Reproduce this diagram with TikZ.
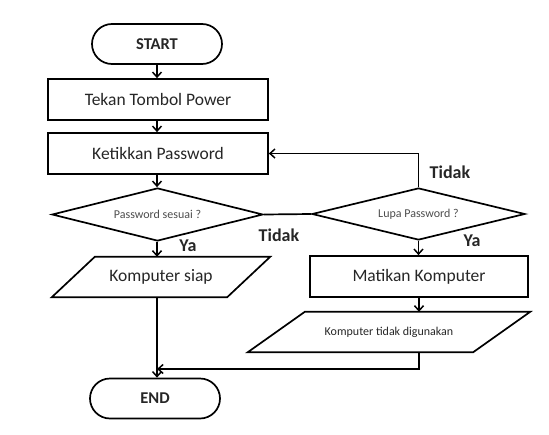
\documentclass[tikz,border=0pt]{standalone}
\usepackage{fontspec}
\setmainfont{Carlito}
\usetikzlibrary{arrows.meta,shapes.geometric,shapes.misc}
\begin{document}
\begin{tikzpicture}[x=1pt,y=-1pt,
  base/.style={draw=black,line width=1.7pt,inner sep=0pt,text=black!85},
  term/.style={base,rounded rectangle,minimum width=130pt,minimum height=40pt,font=\bfseries\fontsize{16.5}{16}\selectfont},
  proc/.style={base,rectangle,minimum width=220pt,minimum height=41pt,font=\fontsize{17.5}{18}\selectfont},
  dec/.style={base,diamond,aspect=4,minimum width=211pt,minimum height=53pt,font=\fontsize{12}{12}\selectfont,text=black!70},
  iobody/.style={rectangle,inner sep=0pt,minimum height=40pt,text=black!85},
  io/.style={line width=1.7pt,line join=miter},
  lbl/.style={font=\bfseries\fontsize{18}{18}\selectfont,text=black!85},
  arr/.style={line width=1.7pt,-{Straight Barb[length=5pt,width=9pt,line width=1.5pt]}},
  ln/.style={line width=1.7pt}]
\useasboundingbox (0,0) rectangle (549,434);
\node[term] (start) at (157,44) {START};
\node[proc] (tp) at (158,99.5) {Tekan Tombol Power};
\node[proc] (kp) at (158,153.5) {Ketikkan Password};
\node[dec] (d1) at (157.5,214.5) {Password sesuai ?};
\node[dec,minimum width=213pt,minimum height=52pt] (d2) at (418.5,214) {Lupa Password ?};
\node[iobody,minimum width=175pt,font=\fontsize{17.5}{18}\selectfont] (ks) at (161,277) {Komputer siap};
\draw[io] ([xshift=-21.5pt]ks.south west) -- ([xshift=-21.5pt]ks.south east)
  -- ([xshift=21.5pt]ks.north east) -- ([xshift=21.5pt]ks.north west) -- cycle;
\node[proc,minimum width=218pt,minimum height=41pt] (mk) at (419,276.5) {Matikan Komputer};
\node[iobody,minimum width=225pt,font=\fontsize{12}{12}\selectfont] (ktd) at (389,332) {Komputer tidak digunakan};
\draw[io] ([xshift=-28.5pt]ktd.south west) -- ([xshift=-28.5pt]ktd.south east)
  -- ([xshift=28.5pt]ktd.north east) -- ([xshift=28.5pt]ktd.north west) -- cycle;
\node[term] (end) at (155,398.5) {END};
\coordinate (j) at (157,369);
\node[lbl] (ya1) at (188,246) {Ya};
\node[lbl] (t1) at (279,235) {Tidak};
\node[lbl] (t2) at (450,172) {Tidak};
\node[lbl] (ya2) at (472,241) {Ya};
\draw[arr] (start.south) -- (start.south |- tp.north);
\draw[arr] (tp.south -| start.south) -- (start.south |- kp.north);
\draw[arr] (kp.south -| start.south) -- (start.south |- d1.north);
\draw[arr] (d1.south -| start.south) -- (start.south |- ks.north);
\draw[ln] (d1.east) -- (d2.west);
\draw[arr] (d2.north) |- (kp.east);
\draw[arr] (d2.south) -- (d2.south |- mk.north);
\draw[arr] (mk.south) -- (mk.south |- ktd.north);
\draw[arr] (mk.south |- ktd.south) |- (j);
\draw[arr] (ks.south -| j) -- (j |- end.north);
\end{tikzpicture}
\end{document}
